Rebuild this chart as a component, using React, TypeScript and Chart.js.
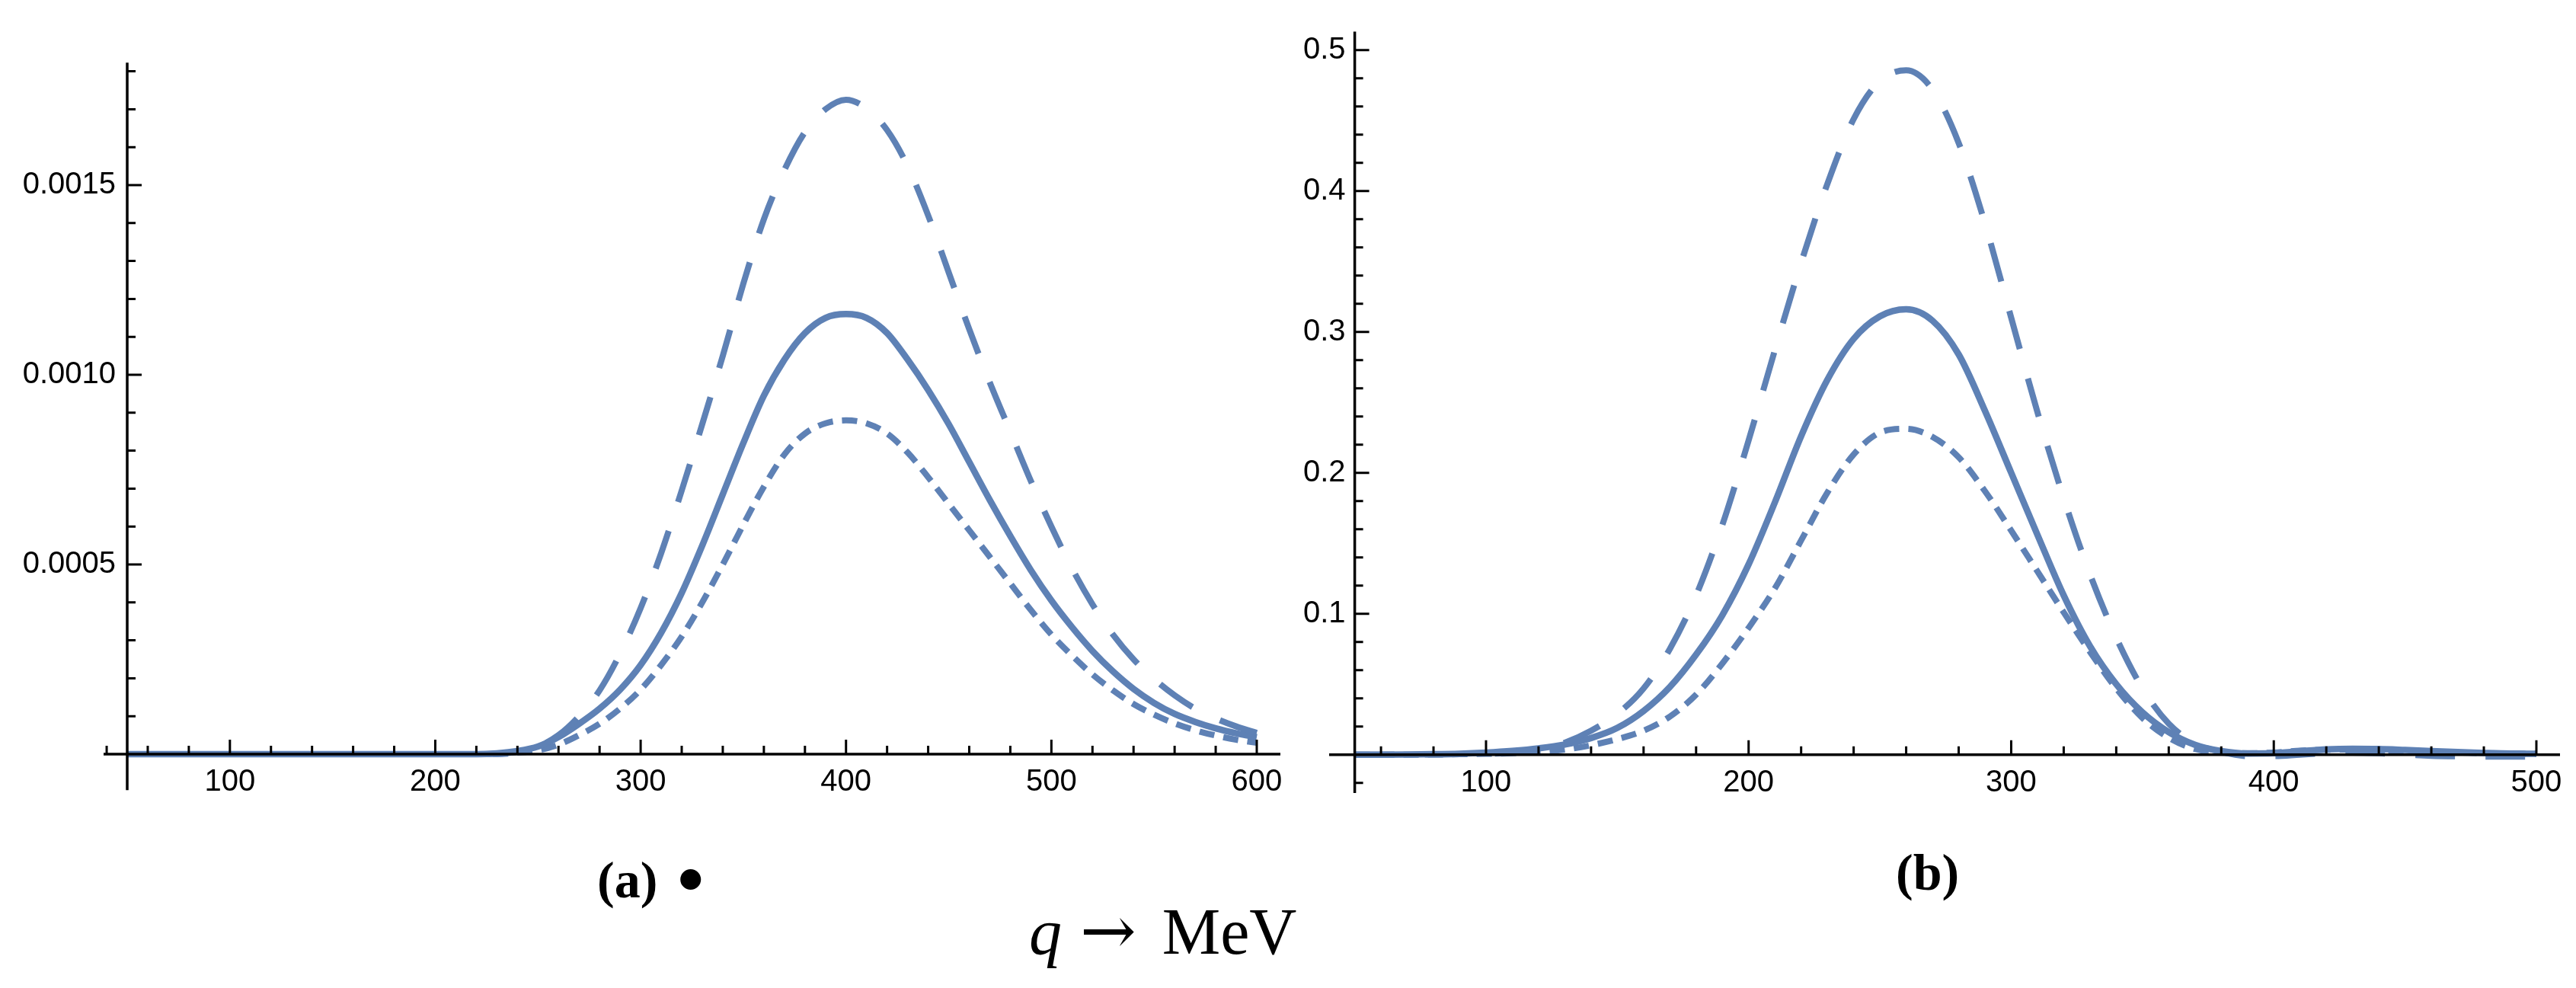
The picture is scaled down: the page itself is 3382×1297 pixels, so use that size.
import React, { useEffect, useRef } from 'react';
import { Chart, registerables } from 'chart.js';

Chart.register(...registerables);

const BLUE = '#5e81b5';

// ---- panel (a) ----
const qA = [50, 100, 150, 200, 220, 230, 240, 250, 260, 270, 280, 290, 300, 310, 320, 330, 340, 350, 360, 370, 380, 390, 400,
  410, 420, 430, 440, 450, 460, 470, 480, 490, 500, 510, 520, 530, 540, 550, 560, 570, 580, 590, 600];
const longDashA = [0, 0, 0, 0, 0, 0.000001, 0.000006, 0.00002, 0.00005, 0.0001, 0.000168, 0.000265, 0.000385, 0.00053,
  0.000695, 0.00087, 0.00105, 0.00124, 0.00141, 0.00154, 0.00164, 0.0017, 0.001725, 0.001702, 0.001645, 0.00155, 0.00142,
  0.00127, 0.00112, 0.00098, 0.00085, 0.00072, 0.0006, 0.00049, 0.000395, 0.000315, 0.00025, 0.000198, 0.000155, 0.00012,
  0.000094, 0.000073, 0.000056];
const solidA = [0, 0, 0, 0, 0, 0.000002, 0.000008, 0.00002, 0.000045, 0.00008, 0.00012, 0.00017, 0.000235, 0.00032, 0.000425,
  0.00055, 0.000685, 0.00082, 0.000945, 0.00104, 0.00111, 0.00115, 0.00116, 0.00115, 0.00111, 0.00104, 0.00096, 0.00087,
  0.00077, 0.00067, 0.000575, 0.000485, 0.000405, 0.000335, 0.000272, 0.000218, 0.000172, 0.000135, 0.000106, 0.000085,
  0.000068, 0.000055, 0.000045];
const shortDashA = [0, 0, 0, 0, 0, 0, 0.000004, 0.00001, 0.000025, 0.00005, 0.00008, 0.00012, 0.00017, 0.000235, 0.00031,
  0.0004, 0.0005, 0.000605, 0.000705, 0.00079, 0.000845, 0.000872, 0.00088, 0.000872, 0.000845, 0.000795, 0.00073, 0.00066,
  0.00059, 0.00052, 0.00045, 0.00038, 0.000315, 0.00026, 0.00021, 0.000168, 0.000132, 0.000104, 0.000081, 0.000063,
  0.000049, 0.000038, 0.00003];
const xMajorA = [100, 200, 300, 400, 500, 600];
const xMinorA = [40, 60, 80, 120, 140, 160, 180, 220, 240, 260, 280, 320, 340, 360, 380, 420, 440, 460, 480, 520, 540, 560, 580];
const yMajorA = [0.0005, 0.001, 0.0015];
const yMinorA = [0.0001, 0.0002, 0.0003, 0.0004, 0.0006, 0.0007, 0.0008, 0.0009, 0.0011, 0.0012, 0.0013, 0.0014, 0.0016,
  0.0017, 0.0018];
const yLabelsA = ['0.0005', '0.0010', '0.0015'];

// ---- panel (b) ----
const qB = [50, 60, 70, 80, 90, 100, 110, 120, 130, 140, 150, 160, 170, 180, 190, 200, 210, 220, 230, 240, 250, 260, 270, 280,
  290, 300, 310, 320, 330, 340, 350, 360, 370, 380, 390, 400, 410, 420, 430, 440, 450, 460, 470, 480, 490, 500];
const longDashB = [0, 0, 0, 0.0001, 0.0003, 0.0006, 0.0015, 0.0035, 0.0085, 0.017, 0.029, 0.047, 0.075, 0.113, 0.163, 0.223,
  0.287, 0.349, 0.405, 0.451, 0.478, 0.4856, 0.472, 0.434, 0.377, 0.31, 0.243, 0.182, 0.128, 0.083, 0.047, 0.022, 0.008,
  0.002, -0.001, -0.001, 0, 0.001, 0.0015, 0.001, 0, -0.0008, -0.0012, -0.0014, -0.0014, -0.0013];
const solidB = [0, 0, 0.0001, 0.0003, 0.0007, 0.0015, 0.0027, 0.0045, 0.0072, 0.0118, 0.019, 0.031, 0.048, 0.071, 0.099,
  0.135, 0.179, 0.226, 0.266, 0.295, 0.311, 0.316, 0.308, 0.284, 0.244, 0.2, 0.156, 0.113, 0.077, 0.05, 0.03, 0.016, 0.007,
  0.0025, 0.0008, 0.001, 0.0025, 0.0038, 0.0042, 0.004, 0.0033, 0.0025, 0.0018, 0.0012, 0.0008, 0.0006];
const shortDashB = [0, 0, 0, 0.0001, 0.0003, 0.0006, 0.001, 0.002, 0.0036, 0.0067, 0.011, 0.017, 0.027, 0.0426, 0.0647, 0.09,
  0.118, 0.152, 0.186, 0.213, 0.2285, 0.2312, 0.2255, 0.211, 0.187, 0.159, 0.13, 0.101, 0.073, 0.047, 0.026, 0.012, 0.004,
  0.0015, 0.001, 0.0015, 0.0028, 0.0035, 0.0036, 0.0032, 0.0026, 0.002, 0.0015, 0.0011, 0.0008, 0.0006];
const xMajorB = [100, 200, 300, 400, 500];
const xMinorB = [60, 80, 120, 140, 160, 180, 220, 240, 260, 280, 320, 340, 360, 380, 420, 440, 460, 480];
const yMajorB = [0.1, 0.2, 0.3, 0.4, 0.5];
const yMinorB = [-0.02, 0.02, 0.04, 0.06, 0.08, 0.12, 0.14, 0.16, 0.18, 0.22, 0.24, 0.26, 0.28, 0.32, 0.34, 0.36, 0.38,
  0.42, 0.44, 0.46, 0.48];
const yLabelsB = ['0.1', '0.2', '0.3', '0.4', '0.5'];

const DASHES: number[][] = [[52, 40], [], [20, 12]];

// Mathematica-style axes: lines cross at (originX, 0), ticks point inwards
const axesPlugin = {
  id: 'mmaAxes',
  afterDatasetsDraw(chart: any, _args: any, opts: any) {
    const { ctx } = chart;
    const x = chart.scales.x;
    const y = chart.scales.y;
    const x0 = x.getPixelForValue(opts.originX);
    const y0 = y.getPixelForValue(0);
    ctx.save();
    ctx.strokeStyle = '#000';
    ctx.lineCap = 'butt';

    ctx.lineWidth = 3.5;
    ctx.beginPath();
    ctx.moveTo(x.left, y0);
    ctx.lineTo(x.right, y0);
    ctx.moveTo(x0, y.top);
    ctx.lineTo(x0, y.bottom);
    ctx.stroke();

    ctx.lineWidth = 3;
    ctx.beginPath();
    opts.xMajor.forEach((v: number) => {
      const px = x.getPixelForValue(v);
      ctx.moveTo(px, y0);
      ctx.lineTo(px, y0 - 19);
    });
    opts.xMinor.forEach((v: number) => {
      const px = x.getPixelForValue(v);
      ctx.moveTo(px, y0);
      ctx.lineTo(px, y0 - 11);
    });
    opts.yMajor.forEach((v: number) => {
      const py = y.getPixelForValue(v);
      ctx.moveTo(x0, py);
      ctx.lineTo(x0 + 19, py);
    });
    opts.yMinor.forEach((v: number) => {
      const py = y.getPixelForValue(v);
      ctx.moveTo(x0, py);
      ctx.lineTo(x0 + 11, py);
    });
    ctx.stroke();

    ctx.fillStyle = '#000';
    ctx.font = '40px "Liberation Sans", Arial, sans-serif';
    ctx.textAlign = 'center';
    ctx.textBaseline = 'middle';
    opts.xMajor.forEach((v: number) => {
      ctx.fillText(String(v), x.getPixelForValue(v), y0 + 37);
    });
    ctx.textAlign = 'right';
    opts.yMajor.forEach((v: number, i: number) => {
      ctx.fillText(opts.yLabels[i], x0 - opts.labelGap, y.getPixelForValue(v));
    });
    ctx.restore();
  },
};

interface PanelProps {
  q: number[];
  series: number[][];
  box: { left: number; top: number; width: number; height: number };
  padding: { left: number; right: number; top: number; bottom: number };
  xRange: [number, number];
  yRange: [number, number];
  axes: any;
}

const Panel: React.FC<PanelProps> = ({ q, series, box, padding, xRange, yRange, axes }) => {
  const canvasRef = useRef<HTMLCanvasElement>(null);
  const chartRef = useRef<Chart | null>(null);

  useEffect(() => {
    if (!canvasRef.current) return;
    if (chartRef.current) chartRef.current.destroy();

    chartRef.current = new Chart(canvasRef.current, {
      type: 'line',
      data: {
        datasets: series.map((s, i) => ({
          data: q.map((xv, k) => ({ x: xv, y: s[k] })),
          borderColor: BLUE,
          borderWidth: i === 1 ? 8.5 : 8,
          borderDash: DASHES[i],
          borderCapStyle: 'butt' as const,
          borderJoinStyle: 'round' as const,
          pointRadius: 0,
          fill: false,
          cubicInterpolationMode: 'monotone' as const,
        })),
      },
      options: {
        animation: false,
        responsive: true,
        maintainAspectRatio: false,
        events: [],
        layout: { padding },
        scales: {
          x: { type: 'linear', display: false, min: xRange[0], max: xRange[1] },
          y: { type: 'linear', display: false, min: yRange[0], max: yRange[1] },
        },
        plugins: {
          legend: { display: false },
          tooltip: { enabled: false },
          // @ts-ignore custom plugin options
          mmaAxes: axes,
        },
      },
      plugins: [axesPlugin],
    });

    return () => {
      if (chartRef.current) {
        chartRef.current.destroy();
        chartRef.current = null;
      }
    };
  }, [q, series]);

  return (
    <div style={{ position: 'absolute', left: box.left, top: box.top, width: box.width, height: box.height }}>
      <canvas ref={canvasRef}></canvas>
    </div>
  );
};

const serif = '"Liberation Serif", "Times New Roman", serif';

const App: React.FC = () => {
  return (
    <div style={{ position: 'absolute', left: 0, top: 0, width: 3382, height: 1297, background: '#fff', overflow: 'hidden' }}>
      <Panel
        q={qA}
        series={[longDashA, solidA, shortDashA]}
        box={{ left: 0, top: 0, width: 1700, height: 1100 }}
        padding={{ left: 136, right: 19, top: 82.3, bottom: 62.7 }}
        xRange={[38.5, 611.5]}
        yRange={[-0.000095, 0.0018227]}
        axes={{ originX: 50, xMajor: xMajorA, xMinor: xMinorA, yMajor: yMajorA, yMinor: yMinorA, yLabels: yLabelsA, labelGap: 15 }}
      />
      <Panel
        q={qB}
        series={[longDashB, solidB, shortDashB]}
        box={{ left: 1700, top: 0, width: 1682, height: 1100 }}
        padding={{ left: 45, right: 21, top: 41.4, bottom: 59 }}
        xRange={[40.25, 509]}
        yRange={[-0.0272, 0.5131]}
        axes={{ originX: 50, xMajor: xMajorB, xMinor: xMinorB, yMajor: yMajorB, yMinor: yMinorB, yLabels: yLabelsB, labelGap: 12 }}
      />
      <div style={{ position: 'absolute', left: 784, top: 1111, fontFamily: serif, fontWeight: 'bold', fontSize: 68, lineHeight: '68px', whiteSpace: 'nowrap' }}>
        (a)<span style={{ marginLeft: 26, fontSize: 100, position: 'relative', top: 10 }}>•</span>
      </div>
      <div style={{ position: 'absolute', left: 2489, top: 1111, fontFamily: serif, fontWeight: 'bold', fontSize: 68, lineHeight: '68px', whiteSpace: 'nowrap' }}>
        (b)
      </div>
      <div style={{ position: 'absolute', left: 1351, top: 1179, fontFamily: serif, fontSize: 86, lineHeight: '86px', whiteSpace: 'nowrap' }}>
        <i>q</i>
        <span style={{ marginLeft: 24, fontFamily: '"DejaVu Serif", serif', fontSize: 88 }}>→</span>
        <span style={{ marginLeft: 34 }}>MeV</span>
      </div>
    </div>
  );
};

export default App;
